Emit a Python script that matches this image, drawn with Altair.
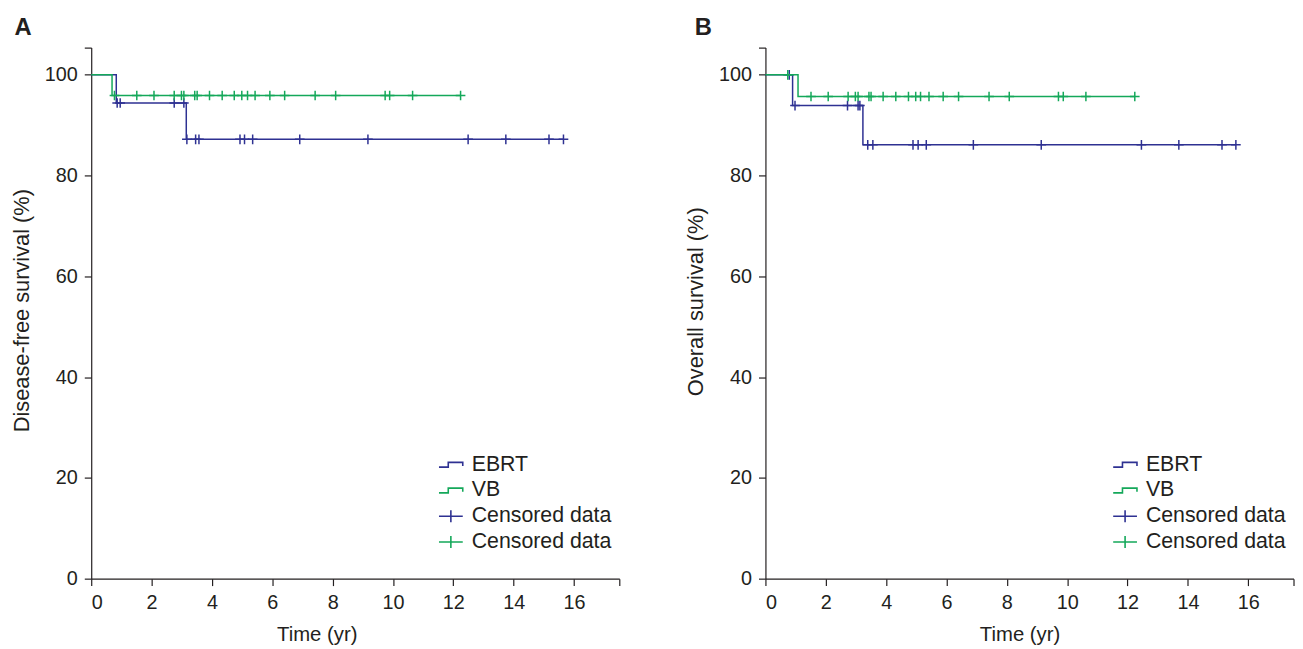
import altair as alt
import pandas as pd

BLUE = "#2e3192"
GREEN = "#14a85a"
INK = "#231f20"
FONT = "Liberation Sans"

# ---- Panel A: disease-free survival ----
a_ebrt_time = [0, 0.83, 3.15, 15.65]
a_ebrt_surv = [100, 94.4, 87.2, 87.2]
a_ebrt_cens = [0.86, 0.96, 2.75, 3.07, 3.17, 3.46, 3.57, 4.93, 5.08, 5.35, 6.91,
               9.17, 12.49, 13.74, 15.17, 15.65]
a_vb_time = [0, 0.69, 12.24]
a_vb_surv = [100, 95.9, 95.9]
a_vb_cens = [0.77, 1.51, 2.08, 2.75, 2.99, 3.07, 3.43, 3.51, 3.92, 4.34, 4.74, 4.99,
             5.18, 5.43, 5.92, 6.41, 7.42, 8.10, 9.74, 9.89, 10.65, 12.24]

# ---- Panel B: overall survival ----
b_ebrt_time = [0, 0.90, 3.23, 15.59]
b_ebrt_surv = [100, 93.9, 86.1, 86.1]
b_ebrt_cens = [0.79, 0.98, 2.72, 3.07, 3.13, 3.39, 3.56, 4.89, 5.06, 5.33, 6.89,
               9.14, 12.46, 13.70, 15.13, 15.59]
b_vb_time = [0, 1.08, 12.24]
b_vb_surv = [100, 95.7, 95.7]
b_vb_cens = [0.74, 1.51, 2.08, 2.74, 2.98, 3.07, 3.43, 3.50, 3.90, 4.32, 4.74, 4.98,
             5.14, 5.42, 5.89, 6.40, 7.41, 8.08, 9.71, 9.87, 10.62, 12.24]

x_ticks = [0, 2, 4, 6, 8, 10, 12, 14, 16, 17.5]
y_ticks = [0, 20, 40, 60, 80, 100, 105.4]
legend_names = ["EBRT", "VB", "Censored data", "Censored data2"]

STEP_PATH = "M-1,0.2L-0.22,0.2L-0.22,-0.2L1,-0.2L1,0.1"
CROSS_LEG = "M-1,0L1,0M0,-0.5L0,0.5"
CROSS_MARK = "M-1,0L1,0M0,-1L0,1"


def level(times, surv, t):
    val = surv[0]
    for ti, si in zip(times, surv):
        if ti <= t:
            val = si
    return val


def make_x(title_x):
    return alt.X("t:Q", scale=alt.Scale(domain=[0, 17.5], nice=False, zero=False),
                 axis=alt.Axis(values=x_ticks, labelExpr="datum.value > 17 ? '' : datum.label",
                               title="Time (yr)", titleX=title_x, titleAlign="center"))


def make_y(title, title_y):
    return alt.Y("s:Q", scale=alt.Scale(domain=[0, 105.4], nice=False),
                 axis=alt.Axis(values=y_ticks, labelExpr="datum.value > 101 ? '' : datum.label",
                               title=title, titleY=title_y, titleAlign="center"))


def panel(ebrt, vb, ytitle, letter, title_x, title_y, letter_dx):
    X = make_x(title_x)
    Y = make_y(ytitle, title_y)
    layers = []
    cens_rows = []
    for (times, surv, cens), color, leg in [(ebrt, BLUE, "Censored data"),
                                            (vb, GREEN, "Censored data2")]:
        curve = pd.DataFrame({"t": times, "s": surv})
        cdf = pd.DataFrame({"t": cens, "s": [level(times, surv, c) for c in cens]})
        cdf["leg"] = leg
        cens_rows.append(cdf)
        layers.append(alt.Chart(curve).mark_line(interpolate="step-after", color=color,
                                                 strokeWidth=1.5).encode(x=X, y=Y))
        layers.append(alt.Chart(cdf).mark_point(shape=CROSS_MARK, size=95, filled=False,
                                                color=color, strokeWidth=1.5,
                                                opacity=1).encode(x=X, y=Y))
    allc = pd.concat(cens_rows)
    leg = alt.Legend(title=None, orient="none", legendX=350, legendY=408,
                     symbolSize=576, symbolStrokeWidth=1.6, symbolOpacity=1,
                     labelFontSize=21.5, labelFont=FONT, labelColor=INK, labelOffset=8,
                     rowPadding=2.0, padding=0,
                     labelExpr="datum.label == 'Censored data2' ? 'Censored data' : datum.label")
    legend_layer = alt.Chart(allc).mark_point(opacity=0, filled=False).encode(
        x=X, y=Y,
        color=alt.Color("leg:N", scale=alt.Scale(domain=legend_names,
                                                 range=[BLUE, GREEN, BLUE, GREEN]), legend=leg),
        shape=alt.Shape("leg:N", scale=alt.Scale(domain=legend_names,
                                                 range=[STEP_PATH, STEP_PATH, CROSS_LEG, CROSS_LEG]),
                        legend=leg),
    )
    layers.append(legend_layer)
    return alt.layer(*layers).properties(
        width=533, height=536,
        title=alt.TitleParams(letter, anchor="start", fontSize=24, fontWeight="bold",
                              font=FONT, color=INK, dx=letter_dx, offset=7),
    )


pa = panel((a_ebrt_time, a_ebrt_surv, a_ebrt_cens), (a_vb_time, a_vb_surv, a_vb_cens),
           "Disease-free survival (%)", "A", 227.6, 265, 4)
pb = panel((b_ebrt_time, b_ebrt_surv, b_ebrt_cens), (b_vb_time, b_vb_surv, b_vb_cens),
           "Overall survival (%)", "B", 256.5, 256, 10)

chart = alt.hconcat(pa, pb, spacing=64.5).resolve_scale(
    color="independent", shape="independent"
).properties(
    padding={"left": 2, "top": 5, "right": 0, "bottom": 0}
).configure_view(stroke=None).configure_axis(
    grid=False, domainColor=INK, domainWidth=1.2, tickColor=INK, tickWidth=1.2, tickSize=7,
    labelFont=FONT, labelFontSize=20, labelColor=INK, labelPadding=7,
    titleFont=FONT, titleFontWeight="normal", titleColor=INK,
).configure_axisX(
    titleFontSize=20.5, titlePadding=12,
).configure_axisY(
    titleFontSize=22, titlePadding=11,
)

chart.save("out.html", embed_options={"renderer": "svg", "actions": False})
